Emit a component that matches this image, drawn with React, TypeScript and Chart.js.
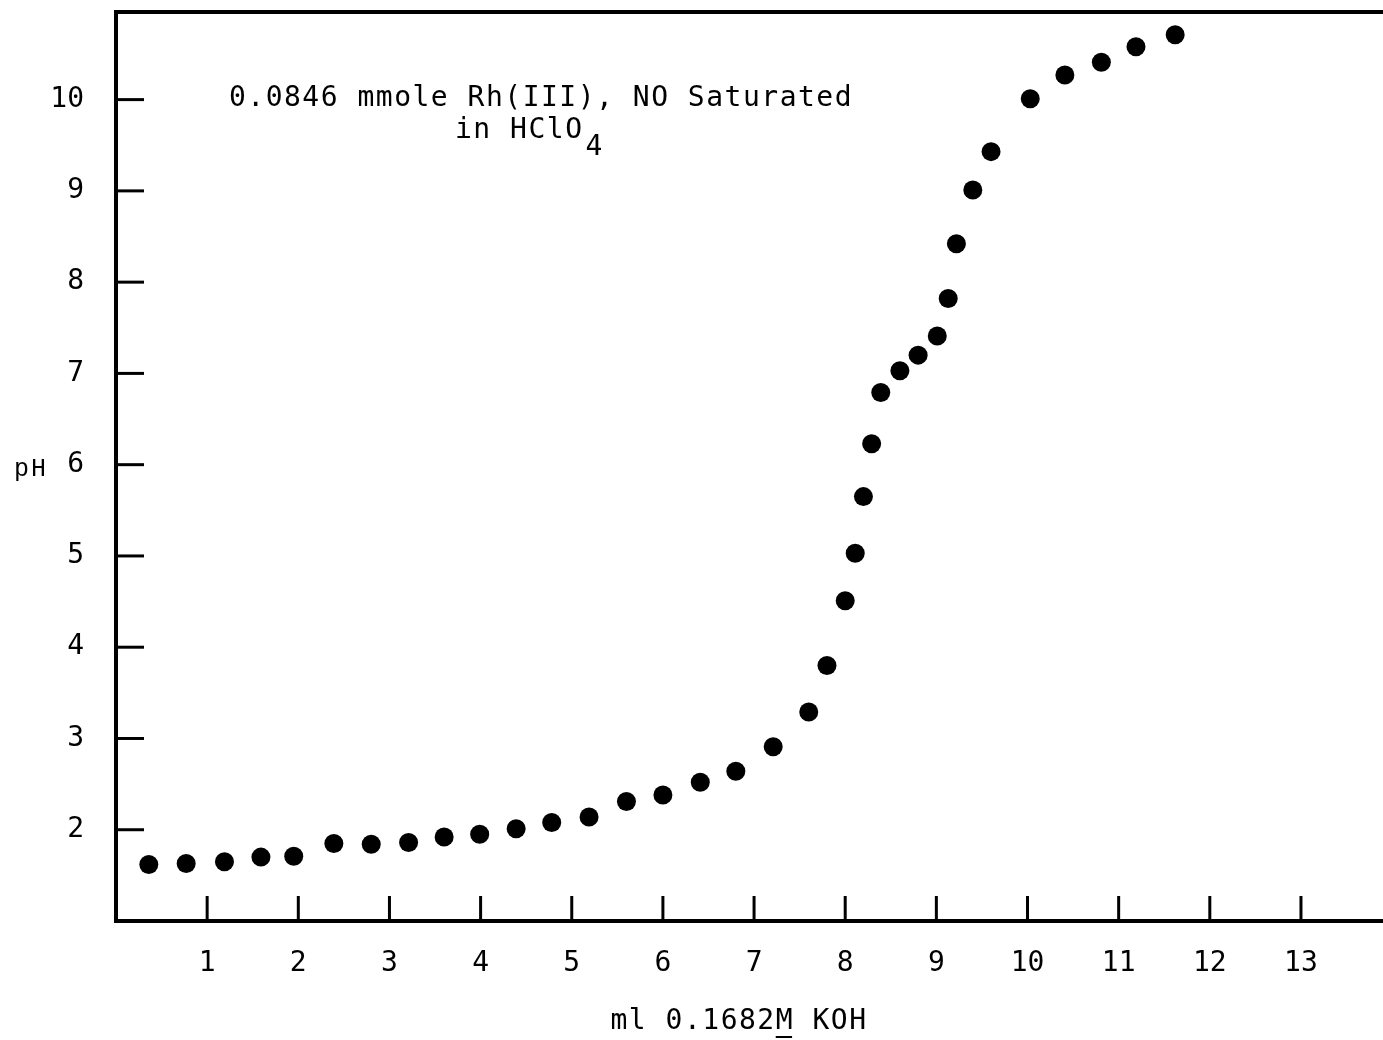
import React, { useEffect, useRef } from "react";
import { Chart, registerables } from "chart.js";

Chart.register(...registerables);

const mlKOH = [
  0.36, 0.77, 1.19, 1.59, 1.95, 2.39, 2.8, 3.21, 3.6, 3.99, 4.39, 4.78, 5.19, 5.6, 6.0, 6.41, 6.8, 7.21,
  7.6, 7.8, 8.0, 8.11, 8.2, 8.29, 8.39, 8.6, 8.8, 9.01, 9.13, 9.22, 9.4, 9.6, 10.03, 10.41, 10.81, 11.19,
  11.62,
];
const pHValues = [
  1.62, 1.63, 1.65, 1.7, 1.71, 1.85, 1.84, 1.86, 1.92, 1.95, 2.01, 2.08, 2.14, 2.31, 2.38, 2.52, 2.64, 2.91,
  3.29, 3.8, 4.51, 5.03, 5.65, 6.23, 6.79, 7.03, 7.2, 7.41, 7.82, 8.42, 9.01, 9.43, 10.01, 10.27, 10.41,
  10.58, 10.71,
];
const xTicks = [1, 2, 3, 4, 5, 6, 7, 8, 9, 10, 11, 12, 13];
const yTicks = [2, 3, 4, 5, 6, 7, 8, 9, 10];
const titleLine1 = "0.0846 mmole Rh(III), NO Saturated";
const titleLine2 = "in HClO";
const titleSub = "4";
const xTitleBefore = "ml 0.1682";
const xTitleUnder = "M";
const xTitleAfter = " KOH";
const yTitle = "pH";

const MONO = '"DejaVu Sans Mono", monospace';

const decorPlugin = {
  id: "decor",
  afterDraw(chart: any) {
    const { ctx, chartArea, scales } = chart;
    const x = scales.x;
    const y = scales.y;
    ctx.save();
    ctx.strokeStyle = "#000";
    ctx.fillStyle = "#000";
    // top border
    ctx.lineWidth = 4;
    ctx.beginPath();
    ctx.moveTo(chartArea.left - 2, chartArea.top);
    ctx.lineTo(chartArea.right + 2, chartArea.top);
    ctx.stroke();
    // inward ticks
    ctx.lineWidth = 3;
    x.ticks.forEach((t: any) => {
      const px = x.getPixelForValue(t.value);
      ctx.beginPath();
      ctx.moveTo(px, chartArea.bottom);
      ctx.lineTo(px, chartArea.bottom - 25);
      ctx.stroke();
    });
    y.ticks.forEach((t: any) => {
      const py = y.getPixelForValue(t.value);
      ctx.beginPath();
      ctx.moveTo(chartArea.left, py);
      ctx.lineTo(chartArea.left + 28, py);
      ctx.stroke();
    });
    // title
    ctx.font = "28px " + MONO;
    (ctx as any).letterSpacing = "1.5px";
    ctx.textBaseline = "middle";
    ctx.textAlign = "center";
    ctx.fillText(titleLine1, 541, 99);
    ctx.textAlign = "left";
    ctx.fillText(titleLine2, 455, 131);
    const w2 = ctx.measureText(titleLine2).width;
    ctx.fillText(titleSub, 455 + w2 + 2, 148);
    // x title
    const full = xTitleBefore + xTitleUnder + xTitleAfter;
    const fw = ctx.measureText(full).width;
    const sx = 739 - fw / 2;
    ctx.fillText(full, sx, 1022);
    const bw = ctx.measureText(xTitleBefore).width;
    const mw = ctx.measureText(xTitleUnder).width;
    ctx.lineWidth = 2;
    ctx.beginPath();
    ctx.moveTo(sx + bw, 1037);
    ctx.lineTo(sx + bw + mw - 2, 1037);
    ctx.stroke();
    // y title
    (ctx as any).letterSpacing = "2px";
    ctx.font = '25px "Liberation Mono", monospace';
    ctx.fillText(yTitle, 14, 469);
    ctx.restore();
  },
};

export default function App() {
  const ref = useRef<HTMLCanvasElement>(null);
  useEffect(() => {
    if (!ref.current) return;
    const chart = new Chart(ref.current, {
      type: "scatter",
      data: {
        datasets: [
          {
            data: mlKOH.map((v, i) => ({ x: v, y: pHValues[i] })),
            backgroundColor: "#000",
            borderWidth: 0,
            pointRadius: 9.5,
            showLine: false,
          },
        ],
      },
      options: {
        animation: false,
        responsive: false,
        devicePixelRatio: 1,
        layout: { autoPadding: false, padding: { top: 12, right: 0, left: 0, bottom: 0 } },
        plugins: { legend: { display: false }, tooltip: { enabled: false }, title: { display: false } },
        scales: {
          x: {
            type: "linear",
            min: 0,
            max: 13.9,
            afterBuildTicks: (s: any) => {
              s.ticks = xTicks.map((v) => ({ value: v }));
            },
            afterFit: (s: any) => {
              s.height = 119;
              s.paddingLeft = 0;
              s.paddingRight = 0;
            },
            grid: { display: true, drawOnChartArea: false, drawTicks: false, color: "rgba(0,0,0,0)" },
            border: { display: true, color: "#000", width: 4 },
            ticks: {
              color: "#000",
              font: { family: MONO, size: 28 },
              padding: 26,
              maxRotation: 0,
              autoSkip: false,
              callback: (v: any) => String(v),
            },
          },
          y: {
            type: "linear",
            min: 1,
            max: 10.96,
            afterBuildTicks: (s: any) => {
              s.ticks = yTicks.map((v) => ({ value: v }));
            },
            afterFit: (s: any) => {
              s.width = 116;
              s.paddingTop = 0;
              s.paddingBottom = 0;
            },
            grid: { display: true, drawOnChartArea: false, drawTicks: false, color: "rgba(0,0,0,0)" },
            border: { display: true, color: "#000", width: 4 },
            ticks: {
              color: "#000",
              font: { family: MONO, size: 28 },
              padding: 32,
              autoSkip: false,
              callback: (v: any) => String(v),
            },
          },
        },
      },
      plugins: [decorPlugin],
    });
    return () => chart.destroy();
  }, []);
  return (
    <div style={{ position: "fixed", left: 0, top: 0, width: 1383, height: 1040, background: "#fff", overflow: "hidden" }}>
      <canvas ref={ref} width={1383} height={1040} style={{ display: "block", width: 1383, height: 1040 }} />
    </div>
  );
}
